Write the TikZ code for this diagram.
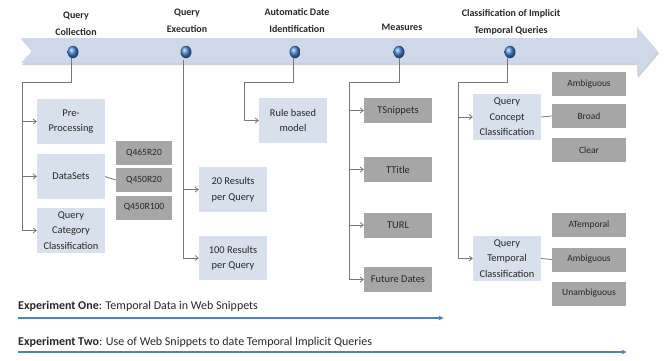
\documentclass[tikz,border=0pt]{standalone}
\usepackage{fontspec}
\setmainfont{Carlito}
\usetikzlibrary{arrows.meta,shapes.geometric}
\definecolor{band}{RGB}{206,216,232}
\definecolor{lbox}{RGB}{216,223,237}
\definecolor{gbox}{RGB}{166,166,166}
\definecolor{conn}{RGB}{120,120,120}
\definecolor{dotblue}{RGB}{70,135,215}
\definecolor{expblue}{RGB}{79,129,189}
\definecolor{txt}{RGB}{40,40,40}
\tikzset{
  lb/.style={fill=lbox, draw=none, minimum width=68pt, minimum height=45pt, align=center, inner sep=1pt,
    font=\fontsize{10.4}{15.5}\selectfont, text=txt},
  gb/.style={fill=gbox, draw=none, minimum width=56pt, minimum height=24pt, align=center, inner sep=1pt,
    font=\fontsize{9.5}{12}\selectfont, text=txt},
  gbw/.style={gb, minimum width=74pt},
  gbm/.style={gb, minimum width=68pt, minimum height=25pt, font=\fontsize{10.4}{12}\selectfont},
  head/.style={align=center, inner sep=0pt, font=\fontsize{10}{17}\selectfont\bfseries, text=txt},
  ball/.style={ellipse, minimum width=11pt, minimum height=12.5pt, inner sep=0pt, shading=ball, ball color=dotblue},
  cn/.style={draw=conn, line width=0.8pt},
  ar/.style={cn, -{Straight Barb[length=3pt,width=5pt]}},
  ex/.style={draw=expblue, line width=1.3pt, -{Latex[length=5pt,width=5pt]}},
  extxt/.style={anchor=west, inner sep=0pt, font=\fontsize{12}{14}\selectfont, text=txt}
}
\begin{document}
\begin{tikzpicture}[x=1pt,y=-1pt]
\useasboundingbox (0,0) rectangle (667,360);
% big arrow
\fill[black!18] (22,40) -- (638,40) -- (638,29) -- (659,53.5) -- (638,78) -- (638,65) -- (22,65) -- (33,53) -- cycle;
\fill[band] (21,38) -- (637,38) -- (637,27) -- (658,51.5) -- (637,76) -- (637,63) -- (21,63) -- (32,51) -- cycle;
% headings
\node[head] (h1) at (76,23.5) {Query\\Collection};
\node[head] (h2) at (187,21) {Query\\Execution};
\node[head] (h3) at (297,21) {Automatic Date\\Identification};
\node[head] (h4) at (402,27) {Measures};
\node[head] (h5) at (511,22) {Classification of Implicit\\Temporal Queries};
% dots
\node[ball] (d1) at (73,52) {};
\node[ball] (d2) at (186,52) {};
\node[ball] (d3) at (295,52) {};
\node[ball] (d4) at (399,52) {};
\node[ball] (d5) at (510,52) {};
% boxes
\node[lb] (pre) at (71,121.5) {Pre-\\Processing};
\node[lb] (data) at (71,176.5) {DataSets};
\node[lb] (qcc) at (71,230.5) {Query\\Category\\Classification};
\node[gb] (q1) at (144,153) {Q465R20};
\node[gb] (q2) at (144,180) {Q450R20};
\node[gb] (q3) at (144,207.5) {Q450R100};
\node[lb] (r20) at (233,189.5) {20 Results\\per Query};
\node[lb, minimum height=44pt] (r100) at (233,258) {100 Results\\per Query};
\node[lb] (rule) at (293,120.5) {Rule based\\model};
\node[gbm] (tsn) at (398,110.5) {TSnippets};
\node[gbm] (tti) at (398,169.5) {TTitle};
\node[gbm] (tur) at (398,225) {TURL};
\node[gbm] (fut) at (398,279.5) {Future Dates};
\node[lb, minimum height=46pt] (qcon) at (507,117) {Query\\Concept\\Classification};
\node[lb] (qtem) at (507,258.5) {Query\\Temporal\\Classification};
\node[gbw] (amb1) at (589,84) {Ambiguous};
\node[gbw] (bro) at (589,116) {Broad};
\node[gbw] (cle) at (589,150) {Clear};
\node[gbw] (ate) at (589,225) {ATemporal};
\node[gbw] (amb2) at (589,259.5) {Ambiguous};
\node[gbw] (una) at (589,293.5) {Unambiguous};
% connectors
\coordinate (c1) at (22,82);
\coordinate (c3) at (244,82);
\coordinate (c4) at (349,82);
\coordinate (c5) at (458,82);
\coordinate (k1) at (71,82);
\coordinate (k3) at (293,82);
\coordinate (k4) at (399,82);
\coordinate (k5) at (507,82);
\coordinate (t2) at (183,60);
\draw[cn] (d1.south -| k1) -- (k1) -- (c1);
\draw[ar] (c1) |- (qcc.west);
\draw[ar] (c1 |- pre.west) -- (pre.west);
\draw[ar] (c1 |- data.west) -- (data.west);
\draw[cn] (data.east) -- (q2.west);
\draw[ar] (t2) |- (r100.west);
\draw[ar] (t2 |- r20.west) -- (r20.west);
\draw[cn] (d3.south -| k3) -- (k3) -- (c3);
\draw[ar] (c3) |- (rule.west);
\draw[cn] (d4.south) -- (k4) -- (c4);
\draw[ar] (c4) |- (fut.west);
\draw[ar] (c4 |- tsn.west) -- (tsn.west);
\draw[ar] (c4 |- tti.west) -- (tti.west);
\draw[ar] (c4 |- tur.west) -- (tur.west);
\draw[cn] (d5.south -| k5) -- (k5) -- (c5);
\draw[ar] (c5) |- (qtem.west);
\draw[ar] (c5 |- qcon.west) -- (qcon.west);
\draw[cn] (qcon.east) -- (bro.west);
\draw[cn] (qtem.east) -- (amb2.west);
% experiments
\node[extxt] (e1) at (18,306) {\textbf{Experiment One}: Temporal Data in Web Snippets};
\node[extxt] (e2) at (18,342) {\textbf{Experiment Two}: Use of Web Snippets to date Temporal Implicit Queries};
\coordinate (e1a) at (18,318);
\coordinate (e1b) at (444,318);
\coordinate (e2a) at (18,352);
\coordinate (e2b) at (627,352);
\draw[ex] (e1a) -- (e1b);
\draw[ex] (e2a) -- (e2b);
\end{tikzpicture}
\end{document}
